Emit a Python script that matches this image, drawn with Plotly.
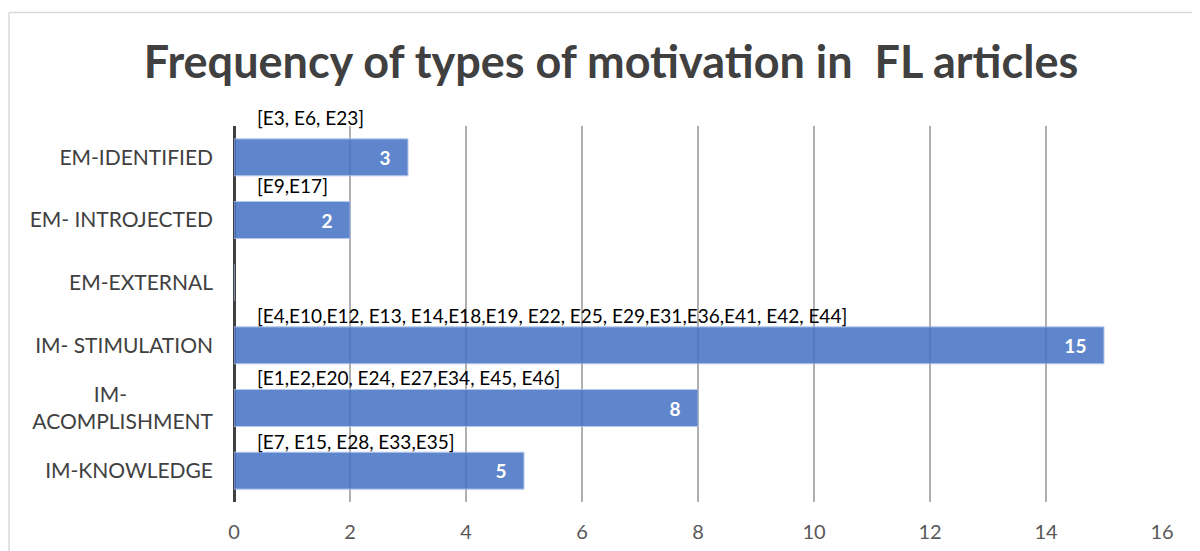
import plotly.graph_objects as go

categories = ["EM-IDENTIFIED", "EM- INTROJECTED", "EM-EXTERNAL", "IM- STIMULATION",
              "IM-ACOMPLISHMENT", "IM-KNOWLEDGE"]
tick_labels = ["EM-IDENTIFIED", "EM- INTROJECTED", "EM-EXTERNAL", "IM- STIMULATION",
               "IM-" + "\u00a0" * 16 + "<br>ACOMPLISHMENT", "IM-KNOWLEDGE"]
values = [3, 2, 0, 15, 8, 5]
article_labels = ["[E3, E6, E23]", "[E9,E17]", "",
                  "[E4,E10,E12, E13, E14,E18,E19, E22, E25, E29,E31,E36,E41, E42, E44]",
                  "[E1,E2,E20, E24, E27,E34, E45, E46]",
                  "[E7, E15, E28, E33,E35]"]
x_ticks = [0, 2, 4, 6, 8, 10, 12, 14, 16]

FONT = "Lato"
label_shift = [40, 35, 32, 30, 31, 29]

# plot area in figure pixels
L, R, T, B = 226, 1154, 118, 494
W, H = R - L, B - T

fig = go.Figure()
fig.add_trace(go.Bar(
    y=categories, x=values, orientation="h",
    marker=dict(color="#4472C4", opacity=0.85, line=dict(color="#A9C0E8", width=1)),
    text=["<b>%d</b>\u00a0\u00a0\u00a0" % v if v else "" for v in values],
    textposition="inside", insidetextanchor="end",
    textfont=dict(family=FONT, size=19, color="white"),
    hoverinfo="x+y",
))

for cat, lab, sh in zip(categories, article_labels, label_shift):
    if lab:
        fig.add_annotation(x=0.36, y=cat, xref="x", yref="y", text=lab, showarrow=False,
                           xanchor="left", yanchor="middle", yshift=sh,
                           font=dict(family=FONT, size=19, color="#000000"))

fig.update_layout(
    width=1200, height=551,
    margin=dict(l=L, r=1200 - R, t=T, b=551 - B),
    paper_bgcolor="white", plot_bgcolor="white",
    showlegend=False, bargap=0.41,
    title=dict(text="<b>Frequency of types of motivation in \u00a0FL articles</b>",
               x=603 / 1200, xref="container", xanchor="center",
               y=1 - 54 / 551, yref="container", yanchor="middle",
               font=dict(family=FONT, size=45, color="#404040")),
    xaxis=dict(range=[0, 16], tickvals=x_ticks, showgrid=True, gridcolor="#B0B0B0", gridwidth=1.5,
               zeroline=True, zerolinecolor="#404040", zerolinewidth=3,
               showline=False, ticks="", ticklabelstandoff=16,
               tickfont=dict(family=FONT, size=20, color="#595959")),
    yaxis=dict(categoryorder="array", categoryarray=categories[::-1],
               range=[-0.5, len(categories) - 0.5], autorange=False,
               tickvals=categories, ticktext=tick_labels, showgrid=False, showline=False,
               ticks="", ticklabelstandoff=20,
               tickfont=dict(family=FONT, size=21, color="#404040")),
    shapes=[
        dict(type="line", xref="paper", yref="paper", x0=(1 - L) / W, x1=(1220 - L) / W,
             y0=(B - 4.5) / H, y1=(B - 4.5) / H, line=dict(color="#D9D9D9", width=1.5)),
        dict(type="line", xref="paper", yref="paper", x0=(1 - L) / W, x1=(1 - L) / W,
             y0=(B - 4.5) / H, y1=(B - 600) / H, line=dict(color="#D9D9D9", width=1.5)),
    ],
)

fig.write_html("out.html")
